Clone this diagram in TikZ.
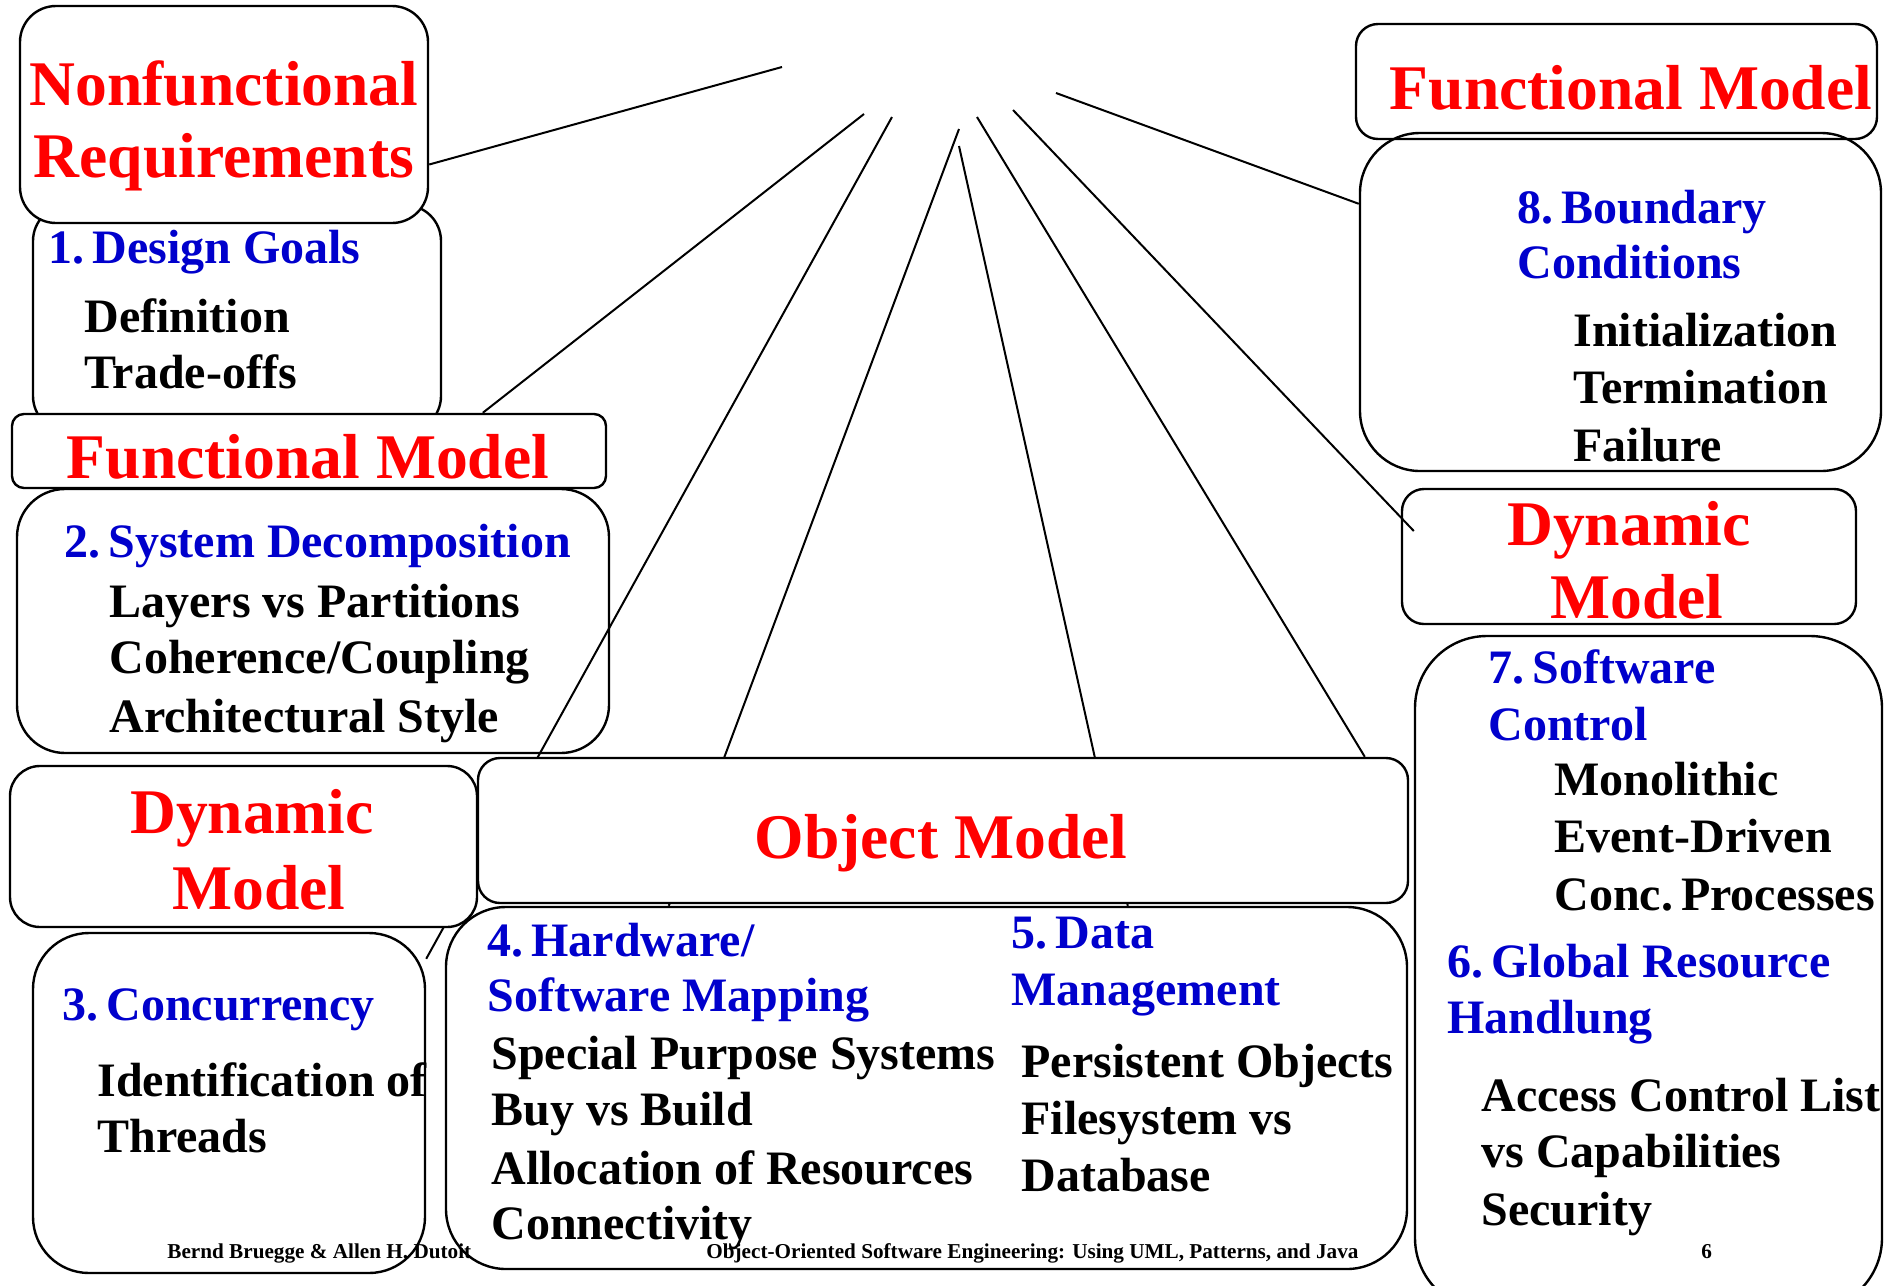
\documentclass[tikz,border=0pt]{standalone}
\usepackage{fontspec}
\setmainfont{Liberation Serif}
\usetikzlibrary{positioning,fit,backgrounds}
\definecolor{hdblue}{RGB}{0,0,204}
\definecolor{titlered}{RGB}{255,0,0}

\begin{document}
\begin{tikzpicture}[x=0.5pt,y=-0.5pt,
  box/.style={draw,line width=1.2pt,inner sep=0pt,rounded corners=#1},
  box/.default=12pt,
  title/.style={text=titlered,font=\fontsize{31.8}{36}\selectfont\bfseries,anchor=base,inner sep=0pt},
  head/.style={text=hdblue,font=\fontsize{24}{29}\selectfont\bfseries,anchor=base west,inner sep=0pt},
  item/.style={font=\fontsize{24}{29}\selectfont\bfseries,anchor=base west,inner sep=0pt},
  foot/.style={font=\fontsize{10.6}{12}\selectfont\bfseries,anchor=base west,inner sep=0pt},
  link/.style={line width=1pt}]

  \useasboundingbox (0,0) rectangle (1892,1286);

  % left column
  \node[box=18pt, fit={(33,205) (441,432)}] (dg) {};
  \node[box=18pt, fill=white, fit={(20,6) (428,223)}] (nfr) {};
  \node[title] (nfr1) at (224,105) {Nonfunctional};
  \node[title] (nfr2) at (224,177) {Requirements};
  \node[head] (dg1) at (48,263) {1.\,Design Goals};
  \node[item] (dg2) at (84,332) {Definition};
  \node[item] (dg3) at (84,388) {Trade-offs};

  \node[box=6pt, fill=white, fit={(12,414) (606,488)}] (fmA) {};
  \node[title] (fmA1) at (308,478) {Functional Model};

  \node[box=24pt, fit={(17,489) (609,753)}] (sd) {};
  \node[head] (sd1) at (64,557) {2.\,System Decomposition};
  \node[item] (sd2) at (109,617) {Layers vs Partitions};
  \node[item] (sd3) at (109,673) {Coherence/Coupling};
  \node[item] (sd4) at (109,732) {Architectural Style};

  \node[box=15pt, fill=white, fit={(10,766) (477,927)}] (dmA) {};
  \node[title] (dmA1) at (252,833) {Dynamic};
  \node[title] (dmA2) at (259,909) {Model};

  \node[box=28pt, fit={(33,933) (425,1273)}] (cc) {};
  \node[head] (cc1) at (62,1020) {3.\,Concurrency};
  \node[item] (cc2) at (97,1096) {Identification of};
  \node[item] (cc3) at (97,1152) {Threads};

  % middle
  \node[box=11pt, fill=white, fit={(478,758) (1408,903)}] (om) {};
  \node[title] (om1) at (941,858) {Object Model};

  \node[box=30pt, fit={(446,907) (1407,1269)}] (hw) {};
  \node[head] (hw1) at (487,956) {4.\,Hardware/};
  \node[head] (hw2) at (487,1011) {Software Mapping};
  \node[item] (hw3) at (491,1069) {Special Purpose Systems};
  \node[item] (hw4) at (491,1125) {Buy vs Build};
  \node[item] (hw5) at (491,1184) {Allocation of Resources};
  \node[item] (hw6) at (491,1239) {Connectivity};
  \node[head] (dt1) at (1011,948) {5.\,Data};
  \node[head] (dt2) at (1011,1005) {Management};
  \node[item] (dt3) at (1021,1077) {Persistent Objects};
  \node[item] (dt4) at (1021,1134) {Filesystem vs};
  \node[item] (dt5) at (1021,1191) {Database};

  % right column
  \node[box=11pt, fit={(1356,24) (1877,139)}] (fmB) {};
  \node[title] (fmB1) at (1631,109) {Functional Model};

  \node[box=30pt, fit={(1360,133) (1881,471)}] (bc) {};
  \node[head] (bc1) at (1517,223) {8.\,Boundary};
  \node[head] (bc2) at (1517,278) {Conditions};
  \node[item] (bc3) at (1573,346) {Initialization};
  \node[item] (bc4) at (1573,403) {Termination};
  \node[item] (bc5) at (1573,461) {Failure};

  \node[box=11pt, fit={(1402,489) (1856,624)}] (dmB) {};
  \node[title] (dmB1) at (1629,545) {Dynamic};
  \node[title] (dmB2) at (1637,618) {Model};

  \node[box=36pt, fit={(1415,636) (1882,1310)}] (sc) {};
  \node[head] (sc1) at (1488,683) {7.\,Software};
  \node[head] (sc2) at (1488,740) {Control};
  \node[item] (sc3) at (1554,795) {Monolithic};
  \node[item] (sc4) at (1554,852) {Event-Driven};
  \node[item] (sc5) at (1554,910) {Conc.\,Processes};
  \node[head] (gr1) at (1447,977) {6.\,Global Resource};
  \node[head] (gr2) at (1447,1033) {Handlung};
  \node[item] (gr3) at (1481,1111) {Access Control List};
  \node[item] (gr4) at (1481,1167) {vs Capabilities};
  \node[item] (gr5) at (1481,1225) {Security};

  % footer
  \node[foot] (ft1) at (167,1258) {Bernd Bruegge \& Allen H. Dutoit};
  \node[foot] (ft2) at (706,1258) {Object-Oriented Software Engineering: Using UML, Patterns, and Java};
  \node[foot] (ft3) at (1701,1258) {6};

  % free ends of the spokes
  \coordinate (h1) at (782,67);
  \coordinate (h2) at (864,114);
  \coordinate (h3) at (892,117);
  \coordinate (h4) at (959,129);
  \coordinate (h5) at (959,146);
  \coordinate (h6) at (977,117);
  \coordinate (h7) at (1013,110);
  \coordinate (h8) at (1056,93);

  \begin{scope}[on background layer]
    \draw[link] (h1) -- ([yshift=-25pt]nfr.east);
    \draw[link] (h2) -- ([xshift=236pt]fmA.north west);
    \draw[link] (h3) -- ([yshift=-13.5pt]cc.north east);
    \draw[link] (h4) -- ([xshift=112pt]hw.north west);
    \draw[link] (h5) -- ([xshift=341.5pt]hw.north west);
    \draw[link] (h6) -- ([xshift=444pt]om.north west);
    \draw[link] (h7) -- ([xshift=6.5pt,yshift=12.75pt]dmB.west);
    \draw[link] (h8) -- ([yshift=-36pt]bc.north west);
  \end{scope}
\end{tikzpicture}
\end{document}
